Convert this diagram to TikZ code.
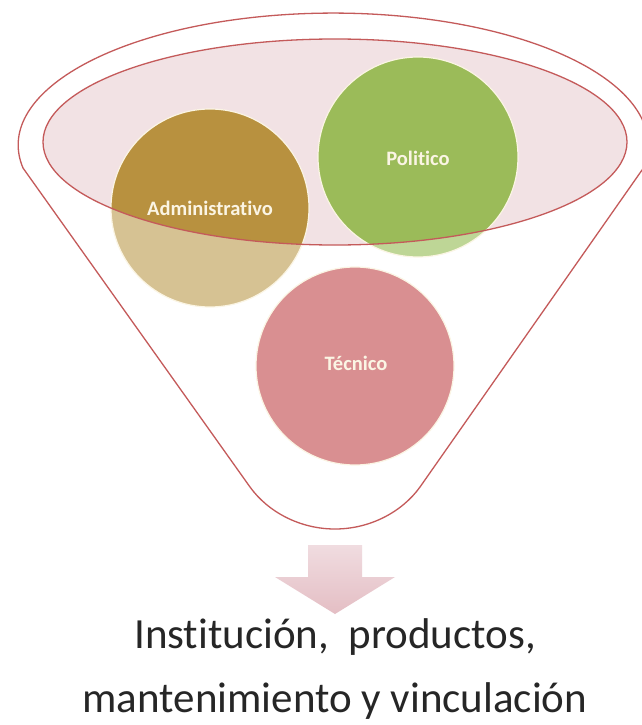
\documentclass[tikz,border=0pt]{standalone}
\usepackage{fontspec}
\setmainfont[Ligatures=NoCommon]{Carlito}
\definecolor{rim}{HTML}{C45A5A}
\definecolor{ringfill}{HTML}{F2E2E4}
\definecolor{admdark}{HTML}{B8913F}
\definecolor{admlight}{HTML}{D6C293}
\definecolor{poldark}{HTML}{9BBB59}
\definecolor{pollight}{HTML}{BED696}
\definecolor{tecfill}{HTML}{D98F91}
\definecolor{tagtext}{HTML}{FBF5E4}
\definecolor{captext}{HTML}{262626}
\definecolor{arrowtop}{HTML}{F0DCE0}
\definecolor{arrowbot}{HTML}{E4BEC4}
\begin{document}
\begin{tikzpicture}[x=1pt,y=-1pt,
    rimline/.style={draw=rim,line width=1.3pt},
    bubble/.style={draw=tagtext,line width=1.2pt},
    tag/.style={text=tagtext,font=\fontsize{20.5}{24}\selectfont\bfseries},
    caption/.style={text=captext,font=\fontsize{43}{50}\selectfont,anchor=base}]
    \useasboundingbox (0,0) rectangle (642,725);
    \fill[white] (0,0) rectangle (642,725);
    \draw[rimline,fill=white] (23,168) arc[start angle=170,end angle=370,x radius=315,y radius=132]
        -- (420,487) .. controls (402,512) and (370,529) .. (335,529)
        .. controls (300,529) and (268,512) .. (250,487) -- cycle;
    \filldraw[bubble,fill=admlight] (210,208) circle[radius=99];
    \filldraw[bubble,fill=pollight] (418,157) circle[radius=100];
    \filldraw[bubble,fill=tecfill] (355,366) circle[radius=99];
    \fill[ringfill] (335,142) ellipse[x radius=292,y radius=103];
    \begin{scope}
        \clip (335,142) ellipse[x radius=292,y radius=103];
        \filldraw[bubble,fill=admdark] (210,208) circle[radius=99];
        \filldraw[bubble,fill=poldark] (418,157) circle[radius=100];
    \end{scope}
    \draw[rimline] (335,142) ellipse[x radius=292,y radius=103];
    \node[tag] (admin) at (210,208) {Administrativo};
    \node[tag] (polit) at (418,158) {Politico};
    \node[tag] (tecn) at (356,363) {Técnico};
    \shade[top color=arrowtop,bottom color=arrowbot] (308,545) -- (362,545) -- (362,577)
        -- (395,577) -- (335,614) -- (275,577) -- (308,577) -- cycle;
    \node[caption] (result1) at (335,648) {Institución,\ \ productos,};
    \node[caption] (result2) at (335,712) {mantenimiento y vinculación};
\end{tikzpicture}
\end{document}
